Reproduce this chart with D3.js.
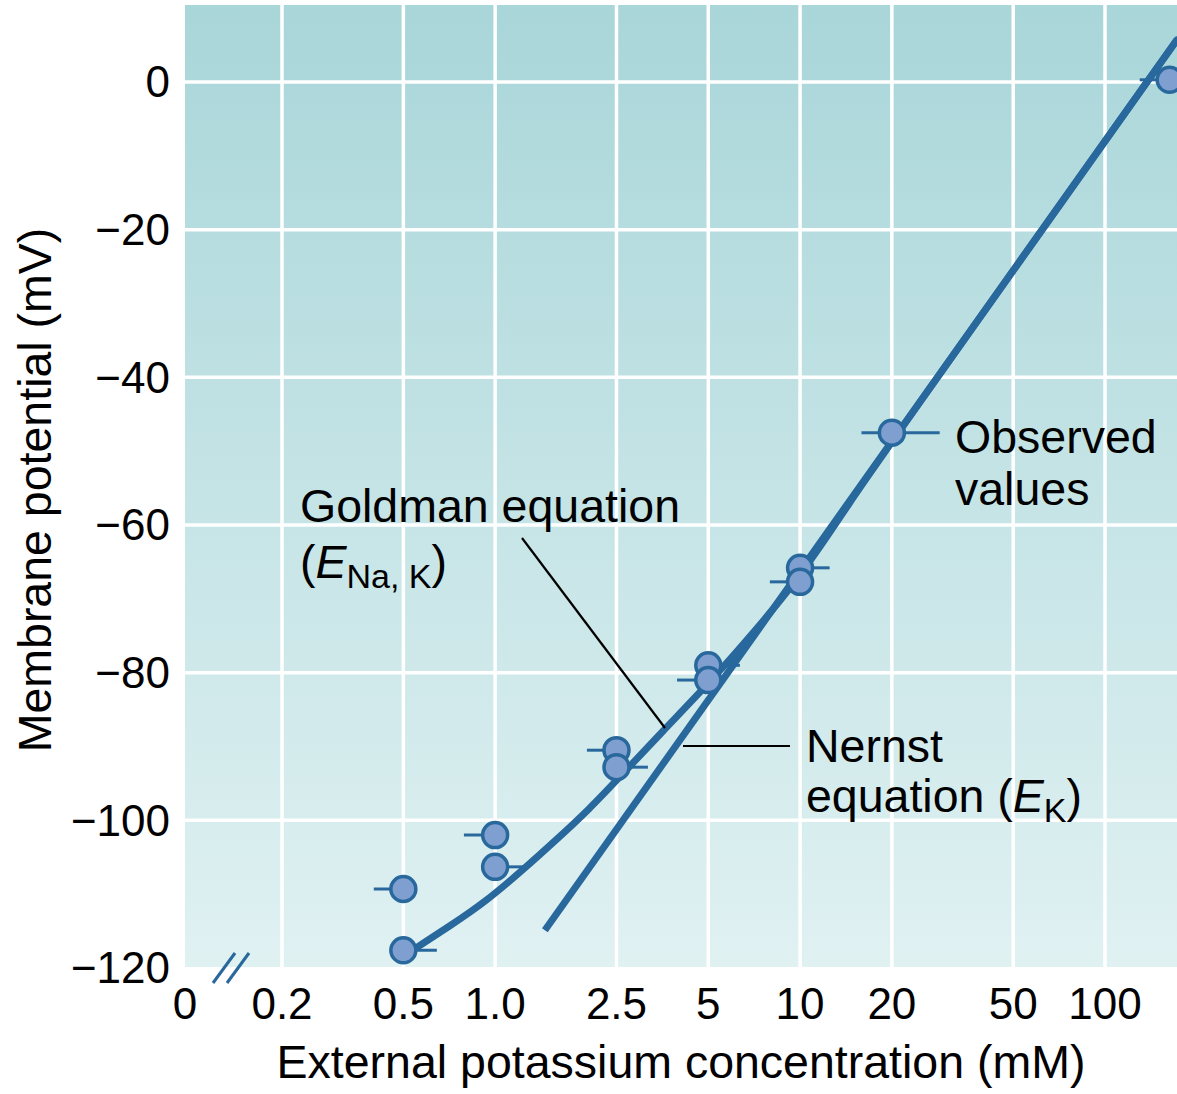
<!DOCTYPE html>
<html>
<head>
<meta charset="utf-8">
<script src="https://cdn.jsdelivr.net/npm/d3@7"></script>
<style>
  html, body { margin: 0; padding: 0; background: #fff; }
  svg { display: block; font-family: 'Liberation Sans', Arial, sans-serif; }
</style>
</head>
<body>
<div id="chart"></div>
<script>
// Observed values (mM, mV) with horizontal error bars (mM)
const obsK     = [0.5,    0.5,    1.0,    1.0,    2.5,   2.5,   5,     5,     10,    10,    20,    163];
const obsV     = [-109.3, -117.6, -102.0, -106.3, -90.5, -92.8, -79.0, -81.0, -65.8, -67.7, -47.5, 0.3];
const obsErrLo = [0.40,   0.5,    0.79,   1.0,    2.0,   2.5,   5,     3.95,  10,    7.96,  15.9,  130];
const obsErrHi = [0.5,    0.644,  1.0,    1.234,  2.5,   3.17,  6.35,  5,     12.5,  10,    28.7,  163];

// Goldman curve
const goldmanK = [0.554, 0.711, 0.926, 1.234, 1.571, 2.046, 2.566, 3.55, 4.95, 6.35, 9.99, 14.6, 20, 172];
const goldmanV = [-117.2, -114.3, -111.1, -106.7, -102.8, -98.4, -94.1, -87.9, -81.7, -76.7, -67.2, -56.8, -48.7, 5.7];

// Nernst line (straight on log axis)
const nernstK = [1.456, 172];
const nernstV = [-114.9, 5.7];

const xTicks = [0.2, 0.5, 1.0, 2.5, 5, 10, 20, 50, 100];
const xTickLabels = ['0.2', '0.5', '1.0', '2.5', '5', '10', '20', '50', '100'];
const yTicks = [0, -20, -40, -60, -80, -100, -120];

const width = 1177, height = 1094;
const plotLeft = 185, plotTop = 5, plotBottom = 967, plotRight = 1177;
const blue = '#28689c';
const dotFill = '#7f9fd0';

const svg = d3.select('#chart').append('svg')
  .attr('width', width)
  .attr('height', height)
  .attr('viewBox', [0, 0, width, height]);

const defs = svg.append('defs');
const grad = defs.append('linearGradient')
  .attr('id', 'bg').attr('x1', 0).attr('y1', 0).attr('x2', 0).attr('y2', 1);
grad.append('stop').attr('offset', '0%').attr('stop-color', '#a9d6d9');
grad.append('stop').attr('offset', '100%').attr('stop-color', '#e0f1f2');

defs.append('clipPath').attr('id', 'clip')
  .append('rect')
  .attr('x', plotLeft).attr('y', plotTop)
  .attr('width', plotRight - plotLeft).attr('height', plotBottom - plotTop);

const x = d3.scaleLog().domain([0.2, 100]).range([282, 1105]);
const y = d3.scaleLinear().domain([-120, 0]).range([968, 82]);

// Background
svg.append('rect')
  .attr('x', plotLeft).attr('y', plotTop)
  .attr('width', plotRight - plotLeft).attr('height', plotBottom - plotTop)
  .attr('fill', 'url(#bg)');

// Grid lines
const grid = svg.append('g').attr('clip-path', 'url(#clip)');
grid.selectAll('.gx')
  .data(xTicks)
  .join('line')
  .attr('x1', d => x(d)).attr('x2', d => x(d))
  .attr('y1', plotTop).attr('y2', plotBottom)
  .attr('stroke', '#fff').attr('stroke-width', 3.5);
grid.selectAll('.gy')
  .data(yTicks.filter(d => d !== -120))
  .join('line')
  .attr('x1', plotLeft).attr('x2', plotRight)
  .attr('y1', d => y(d)).attr('y2', d => y(d))
  .attr('stroke', '#fff').attr('stroke-width', 3.5);

// Y tick labels
svg.append('g').selectAll('text')
  .data(yTicks)
  .join('text')
  .attr('x', 170)
  .attr('y', d => y(d))
  .attr('dy', '0.35em')
  .attr('text-anchor', 'end')
  .style('font-size', '44px')
  .text(d => d === 0 ? '0' : '\u2212' + Math.abs(d));

// X tick labels
svg.append('g').selectAll('text')
  .data(xTicks)
  .join('text')
  .attr('x', d => x(d))
  .attr('y', 1019)
  .attr('text-anchor', 'middle')
  .style('font-size', '44px')
  .text((d, i) => xTickLabels[i]);

svg.append('text')
  .attr('x', plotLeft).attr('y', 1019)
  .attr('text-anchor', 'middle')
  .style('font-size', '44px')
  .text('0');

// Axis break marks
const brk = svg.append('g').attr('stroke', blue).attr('stroke-width', 3);
[0, 14].forEach(dx => {
  brk.append('line')
    .attr('x1', 213 + dx).attr('y1', plotBottom + 16)
    .attr('x2', 235 + dx).attr('y2', plotBottom - 14);
});

// Axis titles
svg.append('text')
  .attr('x', 681).attr('y', 1078)
  .attr('text-anchor', 'middle')
  .style('font-size', '46.5px')
  .text('External potassium concentration (mM)');

svg.append('text')
  .attr('transform', 'translate(51,490) rotate(-90)')
  .attr('text-anchor', 'middle')
  .style('font-size', '46.5px')
  .text('Membrane potential (mV)');

const plot = svg.append('g').attr('clip-path', 'url(#clip)');

const obs = obsK.map((k, i) => ({ k, v: obsV[i], lo: obsErrLo[i], hi: obsErrHi[i] }));

// Error bars
plot.selectAll('.err')
  .data(obs)
  .join('line')
  .attr('x1', d => x(d.lo)).attr('x2', d => x(d.hi))
  .attr('y1', d => y(d.v)).attr('y2', d => y(d.v))
  .attr('stroke', blue).attr('stroke-width', 3);

// Curves
const line = d3.line()
  .x(d => x(d[0]))
  .y(d => y(d[1]))
  .curve(d3.curveBasis);

plot.append('path')
  .datum(nernstK.map((k, i) => [k, nernstV[i]]))
  .attr('d', d3.line().x(d => x(d[0])).y(d => y(d[1])))
  .attr('fill', 'none')
  .attr('stroke', blue).attr('stroke-width', 7);

plot.append('path')
  .datum(goldmanK.map((k, i) => [k, goldmanV[i]]))
  .attr('d', line)
  .attr('fill', 'none')
  .attr('stroke', blue).attr('stroke-width', 7)
  .attr('stroke-linecap', 'round');

// Observed points
plot.selectAll('.dot')
  .data(obs)
  .join('circle')
  .attr('cx', d => x(d.k))
  .attr('cy', d => y(d.v))
  .attr('r', 12.5)
  .attr('fill', dotFill)
  .attr('stroke', blue)
  .attr('stroke-width', 3.5);

// Annotations
const ann = svg.append('g').style('font-size', '46.5px').attr('fill', '#000');

ann.append('text').attr('x', 300).attr('y', 522).text('Goldman equation');
const g2 = ann.append('text').attr('x', 300).attr('y', 578);
g2.append('tspan').text('(');
g2.append('tspan').style('font-style', 'italic').text('E');
g2.append('tspan').attr('dy', 10).style('font-size', '34px').text('Na, K');
g2.append('tspan').attr('dy', -10).text(')');

ann.append('text').attr('x', 955).attr('y', 453).text('Observed');
ann.append('text').attr('x', 955).attr('y', 505).text('values');

ann.append('text').attr('x', 806).attr('y', 762).text('Nernst');
const n2 = ann.append('text').attr('x', 806).attr('y', 812);
n2.append('tspan').text('equation (');
n2.append('tspan').style('font-style', 'italic').text('E');
n2.append('tspan').attr('dy', 10).style('font-size', '34px').text('K');
n2.append('tspan').attr('dy', -10).text(')');

// Leader lines
svg.append('line')
  .attr('x1', 522).attr('y1', 538).attr('x2', 665).attr('y2', 728)
  .attr('stroke', '#000').attr('stroke-width', 2.2);
svg.append('line')
  .attr('x1', 683).attr('y1', 746).attr('x2', 790).attr('y2', 746)
  .attr('stroke', '#000').attr('stroke-width', 2.2);
</script>
</body>
</html>
